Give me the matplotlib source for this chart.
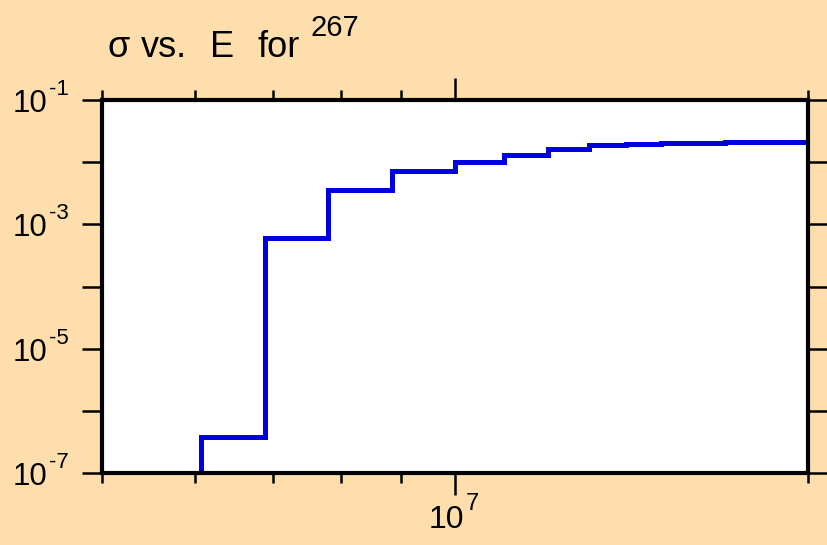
import matplotlib
matplotlib.use("Agg")
import matplotlib.pyplot as plt
import matplotlib.transforms as mtransforms
from matplotlib.ticker import FixedLocator, LogLocator, NullLocator, NullFormatter
import numpy as np

# Energy bin edges (eV) and cross section per bin
energy_edges = [6.07e6, 6.88e6, 7.8e6, 8.84e6, 1.0e7, 1.1e7, 1.2e7, 1.3e7,
                1.4e7, 1.5e7, 1.6e7, 1.7e7, 1.8e7, 1.9e7, 2.0e7]
sigma = [3.8e-7, 6.0e-4, 3.6e-3, 7.1e-3, 1.0e-2, 1.3e-2, 1.63e-2, 1.86e-2,
         1.94e-2, 2.01e-2, 2.07e-2, 2.1e-2, 2.11e-2, 2.12e-2]

x_range = (5e6, 2e7)
y_range = (1e-7, 1e-1)
x_labelled = [7]            # exponents written under the x axis
y_labelled = [-1, -3, -5, -7]

title_words = ["σ", "vs.", "E", "for"]
title_word_x = [107, 141, 210, 257]   # pixel x of each word
mass_number = "267"

BG = "#FFDEAD"
LINE = "#0000e0"

plt.rcParams["font.family"] = ["Liberation Sans", "DejaVu Sans"]

W, H = 827, 545
fig = plt.figure(figsize=(W / 100, H / 100), dpi=100, facecolor=BG)
ax = fig.add_axes([102 / W, 1 - 473 / H, 706 / W, 373 / H])
ax.set_facecolor("white")

ax.stairs(sigma, energy_edges, baseline=1e-9, color=LINE, linewidth=3.6, zorder=2)

ax.set_xscale("log")
ax.set_yscale("log")
ax.set_xlim(*x_range)
ax.set_ylim(*y_range)

# x: long tick at 10^7, short ticks at 5..9e6 and 2e7
ax.xaxis.set_major_locator(FixedLocator([10.0 ** e for e in x_labelled]))
ax.xaxis.set_minor_locator(LogLocator(base=10, subs=np.arange(2, 10), numticks=20))
ax.xaxis.set_major_formatter(NullFormatter())
ax.xaxis.set_minor_formatter(NullFormatter())

# y: tick every decade
ax.yaxis.set_major_locator(LogLocator(base=10, subs=(1.0,), numticks=20))
ax.yaxis.set_minor_locator(NullLocator())
ax.yaxis.set_major_formatter(NullFormatter())

ax.tick_params(which="both", direction="out", top=True, right=True,
               width=1.8, color="black")
ax.tick_params(axis="x", which="major", length=15.8)
ax.tick_params(axis="x", which="minor", length=7.2)
ax.tick_params(axis="y", which="major", length=14.4)

for s in ax.spines.values():
    s.set_linewidth(3)
    s.set_color("black")
    s.set_zorder(3)

# power-of-ten labels with a plain hyphen in the exponent
ytrans = mtransforms.blended_transform_factory(ax.transAxes, ax.transData)
for e in y_labelled:
    base = mtransforms.offset_copy(ytrans, fig=fig, x=-55, y=-12, units="dots")
    sup = mtransforms.offset_copy(ytrans, fig=fig, x=-53, y=5, units="dots")
    ax.text(0, 10.0 ** e, "10", transform=base, ha="right", va="baseline",
            fontsize=22.5, clip_on=False)
    ax.text(0, 10.0 ** e, str(e), transform=sup, ha="left", va="baseline",
            fontsize=16, clip_on=False)

xtrans = mtransforms.blended_transform_factory(ax.transData, ax.transAxes)
for e in x_labelled:
    base = mtransforms.offset_copy(xtrans, fig=fig, x=9, y=-55, units="dots")
    sup = mtransforms.offset_copy(xtrans, fig=fig, x=11, y=-37, units="dots")
    ax.text(10.0 ** e, 0, "10", transform=base, ha="right", va="baseline",
            fontsize=23, clip_on=False)
    ax.text(10.0 ** e, 0, str(e), transform=sup, ha="left", va="baseline",
            fontsize=17, clip_on=False)

# title with superscript mass number
for word, px in zip(title_words, title_word_x):
    fig.text(px / W, 1 - 57 / H, word, fontsize=26, ha="left", va="baseline")
fig.text(310 / W, 1 - 36 / H, mass_number, fontsize=21, ha="left", va="baseline")

fig.savefig("out.png", dpi=100, facecolor=BG)
